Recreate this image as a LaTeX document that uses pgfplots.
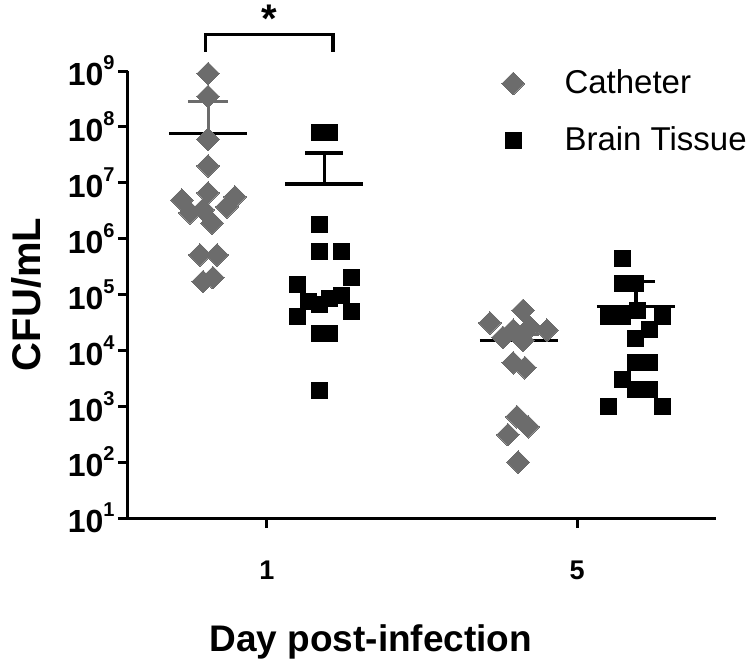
\documentclass[border=0pt]{standalone}
\usepackage{pgfplots}
\pgfplotsset{compat=1.18}
\usepackage{fontspec}
\setmainfont{Liberation Sans}
\definecolor{cath}{RGB}{108,108,108}
\newcommand{\pw}[1]{\textbf{10\raisebox{0.5em}{\fontsize{10}{10}\selectfont\bfseries #1}}}
\begin{document}
\begin{tikzpicture}
\useasboundingbox (-64pt,-76pt) rectangle (311pt,259pt);
\begin{axis}[
  scale only axis, width=294pt, height=223.5pt,
  ymode=log, ymin=10, ymax=1e9,
  xmin=-0.448, xmax=1.448,
  axis lines=left, axis line style={-, line width=1.5pt},
  xtick={0,1}, xticklabels={\textbf{1},\textbf{5}},
  ytick={1e1,1e2,1e3,1e4,1e5,1e6,1e7,1e8,1e9},
  yticklabels={\pw{1},\pw{2},\pw{3},\pw{4},\pw{5},\pw{6},\pw{7},\pw{8},\pw{9}},
  yminorticks=false, xminorticks=false,
  tick align=outside, major tick length=5pt,
  major tick style={black, line width=1.5pt},
  yticklabel style={font=\fontsize{16}{16}\selectfont, inner sep=0pt, xshift=-1.5pt},
  xticklabel style={font=\fontsize{13.5}{13.5}\selectfont, yshift=-12.7pt},
  xlabel={Day post-infection},
  xlabel style={font=\fontsize{18.5}{18.5}\selectfont\bfseries, at={(axis description cs:0.413,0)}, anchor=center, yshift=-62pt},
  ylabel={CFU/mL},
  ylabel style={font=\fontsize{20}{20}\selectfont\bfseries, at={(axis description cs:-0.1735,0.5)}, anchor=center},
  clip=false,
  legend style={draw=none, fill=none, at={(rel axis cs:0.625,1.021)}, anchor=north west,
    font=\fontsize{16.5}{16.5}\selectfont, row sep=11pt,
    /tikz/every odd column/.append style={column sep=18pt}},
  legend cell align=left,
]
% mean lines and SEM (drawn beneath the points)
\addplot[cath, line width=1.5pt, forget plot] coordinates {(-0.19,7.5e7) (-0.19,2.9e8)};
\addplot[cath, line width=1.5pt, forget plot] coordinates {(-0.255,2.9e8) (-0.125,2.9e8)};
\addplot[black, line width=1.6pt, forget plot] coordinates {(-0.316,7.5e7) (-0.064,7.5e7)};
\addplot[black, line width=1.6pt, forget plot] coordinates {(0.185,9.5e6) (0.185,3.4e7)};
\addplot[black, line width=1.6pt, forget plot] coordinates {(0.124,3.4e7) (0.246,3.4e7)};
\addplot[black, line width=1.6pt, forget plot] coordinates {(0.059,9.5e6) (0.311,9.5e6)};
\addplot[cath, line width=1.5pt, forget plot] coordinates {(0.813,1.5e4) (0.813,1.95e4)};
\addplot[cath, line width=1.5pt, forget plot] coordinates {(0.75,1.95e4) (0.876,1.95e4)};
\addplot[black, line width=1.6pt, forget plot] coordinates {(0.687,1.5e4) (0.939,1.5e4)};
\addplot[black, line width=1.6pt, forget plot] coordinates {(1.19,6e4) (1.19,1.7e5)};
\addplot[black, line width=1.6pt, forget plot] coordinates {(1.128,1.7e5) (1.252,1.7e5)};
\addplot[black, line width=1.6pt, forget plot] coordinates {(1.064,6e4) (1.316,6e4)};
% Catheter
\addplot[only marks, mark=square*, mark size=4pt, mark options={rotate=45, fill=cath, draw=cath, line width=0pt}, color=cath] coordinates {
(-0.19,9e8) (-0.19,3.5e8) (-0.19,6e7) (-0.19,2e7)
(-0.274,4.9e6) (-0.248,2.9e6) (-0.19,6.6e6) (-0.103,5.6e6) (-0.129,3.7e6) (-0.206,3.3e6) (-0.177,1.9e6)
(-0.216,5.1e5) (-0.161,5.1e5) (-0.206,1.7e5) (-0.174,2.0e5)
(0.719,3.1e4) (0.826,5.2e4) (0.794,2.3e4) (0.848,2.6e4) (0.903,2.3e4) (0.761,1.7e4) (0.826,1.5e4)
(0.794,6e3) (0.832,4.9e3) (0.806,650) (0.842,430) (0.777,310) (0.810,100)
};
\addlegendentry{Catheter}
% Brain tissue
\addplot[only marks, mark=square*, mark size=4pt, mark options={fill=black, draw=black, line width=0pt}, color=black] coordinates {
(0.171,8e7) (0.203,8e7) (0.168,1.8e6) (0.171,6e5) (0.239,6e5)
(0.097,1.5e5) (0.274,2.0e5) (0.135,7.4e4) (0.168,6.6e4) (0.203,8.5e4) (0.242,9.7e4)
(0.097,4.0e4) (0.274,4.9e4) (0.171,2.0e4) (0.203,2.0e4) (0.168,1.95e3)
(1.145,4.5e5) (1.145,1.6e5) (1.190,1.6e5) (1.194,5.2e4) (1.10,4e4) (1.145,4e4) (1.277,4e4)
(1.232,2.4e4) (1.187,1.6e4) (1.190,6e3) (1.232,6e3) (1.145,3e3) (1.190,2e3) (1.232,2e3)
(1.10,1e3) (1.277,1e3)
};
\addlegendentry{Brain Tissue}
% significance bracket
\draw[line width=1.6pt] (axis cs:-0.197,2.19e9) -- (axis cs:-0.197,4.57e9) -- (axis cs:0.213,4.57e9) -- (axis cs:0.213,2.19e9);
\node[font=\fontsize{20}{20}\selectfont\bfseries, anchor=base] at (axis cs:0.008,4.9e9) {*};
\end{axis}
\end{tikzpicture}
\end{document}
